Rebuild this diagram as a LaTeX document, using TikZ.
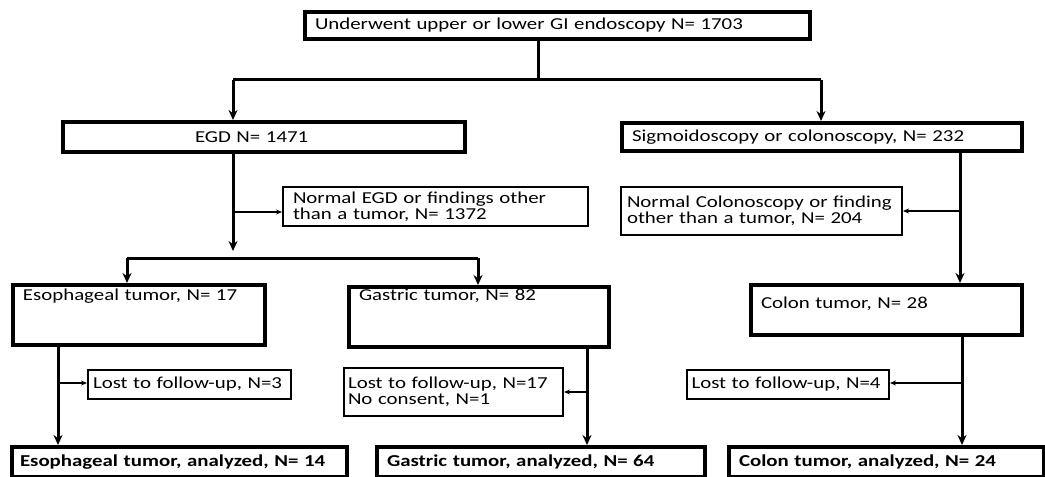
\documentclass[tikz,border=0pt]{standalone}
\usepackage{fontspec}
\setmainfont{Carlito}[FakeStretch=1.25]
\usetikzlibrary{arrows.meta}

\begin{document}
\begin{tikzpicture}[x=0.2mm,y=-0.2mm,>={Stealth[length=2mm,width=1.8mm]},
  every node/.style={font=\fontsize{9.5}{9.2}\selectfont},
  bigbox/.style={draw,line width=0.8mm,anchor=north west,align=left,inner xsep=2mm,inner ysep=0pt},
  smallbox/.style={draw,line width=0.4mm,anchor=north west,align=left,inner xsep=2mm,inner ysep=0pt},
  boldtext/.style={font=\fontsize{9.5}{9.2}\selectfont\bfseries},
  mainline/.style={line width=0.6mm},
  sideline/.style={line width=0.25mm,-{Stealth[length=1.2mm,width=1mm]}}]
\useasboundingbox (0,0) rectangle (1045,477);

% boxes, placed by their top left corner (pixels of the reference)
\node[bigbox,text width=97mm,minimum height=5.4mm] (top) at (303,10) {Underwent upper or lower GI endoscopy N= 1703};
\node[bigbox,text width=76.4mm,minimum height=6mm] (egd) at (61,120) {\hspace*{24.4mm}EGD N= 1471};
\node[bigbox,text width=76mm,minimum height=5.6mm] (sig) at (620,121) {Sigmoidoscopy or colonoscopy, N= 232};
\node[smallbox,text width=57mm,minimum height=7.8mm] (normegd) at (282,186) {Normal EGD or findings other\\than a tumor, N= 1372};
\node[smallbox,inner xsep=1.2mm,text width=53.8mm,minimum height=9.6mm] (normcol) at (620,186) {Normal Colonoscopy or finding\\other than a tumor, N= 204};
\node[bigbox,text width=46.4mm,text height=3.1mm,text depth=8.9mm] (eso) at (11,283) {Esophageal tumor, N= 17};
\node[bigbox,text width=48mm,text height=2.7mm,text depth=9.3mm] (gas) at (347,285) {Gastric tumor, N= 82};
\node[bigbox,text width=50.2mm,text height=4.7mm,text depth=5.3mm] (col) at (749,283) {Colon tumor, N= 28};
\node[smallbox,inner xsep=1mm,text width=38.6mm,minimum height=5.8mm] (losteso) at (87,369) {Lost to follow-up, N=3};
\node[smallbox,inner xsep=0.8mm,text width=42.2mm,minimum height=9.6mm] (lostgas) at (343,367) {Lost to follow-up, N=17\\No consent, N=1};
\node[smallbox,inner xsep=0.9mm,text width=38.6mm,minimum height=5.8mm] (lostcol) at (686,369) {Lost to follow-up, N=4};
\node[bigbox,boldtext,inner xsep=1.6mm,text width=63.8mm,minimum height=6mm] (esoan) at (10,445) {Esophageal tumor, analyzed, N= 14};
\node[bigbox,boldtext,text width=61.6mm,minimum height=6mm] (gasan) at (375,445) {Gastric tumor, analyzed, N= 64};
\node[bigbox,boldtext,text width=59mm,minimum height=6mm] (colan) at (727,445) {Colon tumor, analyzed, N= 24};

% junction points
\coordinate (f1) at (538,80);
\coordinate (d1) at (233,80);
\coordinate (d2) at (821,80);
\coordinate (f2) at (233,251);
\coordinate (d3) at (127,258);
\coordinate (d4) at (478,258);
\coordinate (b1) at (233,212);
\coordinate (v1) at (960,0);
\coordinate (b2) at (960,211);
\coordinate (v2) at (58,0);
\coordinate (b3) at (58,383);
\coordinate (v3) at (587,0);
\coordinate (b4) at (587,392);
\coordinate (v4) at (962,0);
\coordinate (b5) at (962,383);

% top split
\draw[mainline] (top.south -| f1) -- (f1);
\draw[mainline] (d1) -- (d2);
\draw[mainline,->] (d1) -- (egd.north -| d1);
\draw[mainline,->] (d2) -- (sig.north -| d2);

% upper GI
\draw[mainline,->] (egd.south -| f2) -- (f2);
\draw[sideline] (b1) -- (normegd.west |- b1);
\draw[mainline] (d3) -- (d4);
\draw[mainline,->] (d3) -- (eso.north -| d3);
\draw[mainline,->] (d4) -- (gas.north -| d4);

% lower GI
\draw[mainline,->] (sig.south -| v1) -- (col.north -| v1);
\draw[sideline] (b2) -- (normcol.east |- b2);

% follow-up
\draw[mainline,->] (eso.south -| v2) -- (esoan.north -| v2);
\draw[sideline] (b3) -- (losteso.west |- b3);
\draw[mainline,->] (gas.south -| v3) -- (gasan.north -| v3);
\draw[sideline] (b4) -- (lostgas.east |- b4);
\draw[mainline,->] (col.south -| v4) -- (colan.north -| v4);
\draw[sideline] (b5) -- (lostcol.east |- b5);
\end{tikzpicture}
\end{document}
